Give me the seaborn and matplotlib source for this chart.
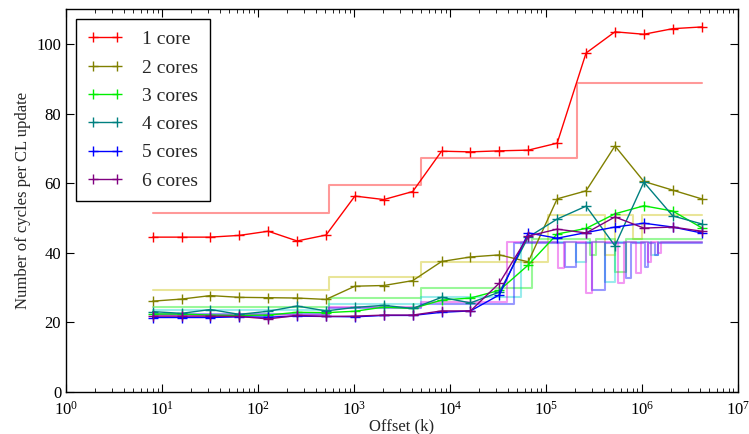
import matplotlib
matplotlib.use("Agg")
import matplotlib.pyplot as plt
import matplotlib.ticker as mticker
import seaborn as sns
import pandas as pd

# Measured cycles per cache-line update vs. offset (k)
offsets = [8, 16, 32, 64, 128, 256, 512, 1024, 2048, 4096, 8192, 16384,
           32768, 65536, 131072, 262144, 524288, 1048576, 2097152, 4194304]
core1 = [44.5, 44.5, 44.5, 45.0, 46.2, 43.4, 45.1, 56.3, 55.3, 57.6, 69.2, 69.0,
         69.3, 69.5, 71.5, 97.4, 103.5, 102.8, 104.4, 104.9]
core2 = [26.1, 26.7, 27.7, 27.2, 27.1, 27.0, 26.6, 30.4, 30.6, 32.0, 37.5, 38.8,
         39.4, 37.4, 55.5, 57.8, 70.7, 60.5, 58.0, 55.5]
core3 = [22.4, 22.4, 22.1, 22.0, 22.1, 22.9, 22.8, 23.2, 24.4, 24.0, 26.4, 27.0,
         29.2, 36.5, 45.4, 47.0, 51.2, 53.5, 52.0, 47.2]
core4 = [23.1, 22.6, 23.7, 22.3, 23.2, 24.7, 23.3, 24.3, 24.9, 24.0, 27.2, 25.6,
         28.7, 44.5, 49.7, 53.4, 42.0, 60.3, 50.6, 48.3]
core5 = [21.4, 21.4, 21.4, 21.6, 21.5, 21.8, 21.7, 21.6, 22.0, 22.0, 22.9, 23.3,
         27.9, 45.7, 44.2, 45.8, 47.4, 48.5, 47.4, 45.7]
core6 = [21.8, 21.8, 21.8, 21.7, 21.0, 22.0, 21.7, 21.8, 22.1, 22.1, 23.3, 23.3,
         31.3, 44.8, 46.8, 45.7, 50.3, 47.1, 47.4, 46.2]

labels = ["1 core", "2 cores", "3 cores", "4 cores", "5 cores", "6 cores"]

# Model prediction (step curves): edge offsets and level after each edge
model1_k = [8, 551, 4980, 212000, 4194304]
model1_v = [51.5, 59.5, 67.3, 88.9, 88.9]
model2_k = [8, 551, 4980, 106000, 415000, 527000, 811000, 1000000, 4194304]
model2_v = [29.3, 33.1, 37.3, 50.8, 39.4, 50.8, 44.0, 50.8, 50.8]
model3_k = [8, 551, 4980, 72400, 290000, 334000, 527000, 686000, 4194304]
model3_v = [24.3, 27.1, 29.9, 44.0, 39.4, 44.0, 34.6, 44.0, 44.0]
model4_k = [8, 551, 4980, 55700, 207000, 264000, 415000, 527000, 1250000,
            1470000, 4194304]
model4_v = [23.6, 25.3, 27.4, 43.2, 37.4, 43.2, 31.7, 43.2, 39.5, 43.2, 43.2]
model5_k = [8, 551, 4980, 46000, 160000, 207000, 304000, 415000, 686000, 773000,
            1080000, 1160000, 1370000, 1470000, 4194304]
model5_v = [22.4, 24.0, 25.3, 42.8, 35.9, 42.8, 29.3, 42.8, 32.8, 42.8,
            36.0, 42.8, 39.4, 42.8, 42.8]
model6_k = [8, 551, 4980, 38900, 135000, 156000, 264000, 304000, 566000, 654000,
            871000, 982000, 1160000, 1250000, 1470000, 1580000, 4194304]
model6_v = [22.2, 24.3, 25.9, 43.0, 35.7, 43.0, 28.4, 43.0, 31.3, 43.0,
            34.1, 43.0, 37.3, 43.0, 40.0, 43.0, 43.0]

line_colors = ["#ff0000", "#808000", "#00ee00", "#008080", "#0000ff", "#800080"]
model_colors = ["#ff0000", "#c8c000", "#00ee00", "#00d0d0", "#0000ff", "#e000e0"]

sns.set_style("ticks")
plt.rcParams["font.family"] = ["Liberation Serif", "DejaVu Serif"]
plt.rcParams["mathtext.fontset"] = "stix"

fig = plt.figure(figsize=(7.49, 4.34), dpi=100)
ax = fig.add_axes([0.0881, 0.0968, 0.897, 0.882])

models = [(model1_k, model1_v), (model2_k, model2_v), (model3_k, model3_v),
          (model4_k, model4_v), (model5_k, model5_v), (model6_k, model6_v)]
for (mk, mv), col in zip(models, model_colors):
    sns.lineplot(x=mk, y=mv, ax=ax, color=col, alpha=0.4, linewidth=1.5,
                 drawstyle="steps-post", estimator=None, sort=False,
                 legend=False, zorder=1)

handles = []
for series, col, lab in zip([core1, core2, core3, core4, core5, core6],
                            line_colors, labels):
    df = pd.DataFrame({"offset": offsets, "cycles": series})
    sns.lineplot(data=df, x="offset", y="cycles", ax=ax, color=col,
                 linewidth=1.0, marker="+", markersize=7, markeredgewidth=1.0,
                 markeredgecolor=col, estimator=None, sort=False,
                 legend=False, zorder=3)
    handles.append(ax.lines[-1])

ax.set_xscale("log")
ax.set_xlim(1, 1e7)
ax.set_ylim(0, 110)
ax.set_yticks([0, 20, 40, 60, 80, 100])
ax.xaxis.set_major_locator(mticker.LogLocator(base=10, numticks=10))
ax.xaxis.set_minor_locator(mticker.LogLocator(base=10, subs=range(2, 10), numticks=20))
ax.xaxis.set_minor_formatter(mticker.NullFormatter())

ax.tick_params(axis="both", which="both", direction="in", top=True, right=True,
               colors="black", labelsize=12)
ax.tick_params(axis="x", which="major", pad=6)
ax.tick_params(which="major", length=6, width=0.8)
ax.tick_params(which="minor", length=3, width=0.6)
for s in ax.spines.values():
    s.set_color("black")
    s.set_linewidth(1.0)

ax.set_xlabel("Offset (k)", fontsize=12, labelpad=0)
ax.set_ylabel("Number of cycles per CL update", fontsize=12, labelpad=4)

leg = ax.legend(handles, labels, loc="upper left", fontsize=14, numpoints=2,
                frameon=True, fancybox=False, framealpha=1, edgecolor="black",
                handlelength=1.8, handletextpad=1.0, labelspacing=0.55,
                borderpad=0.6, borderaxespad=0.5)
leg.get_frame().set_linewidth(1.0)

fig.savefig("out.png", dpi=100)
